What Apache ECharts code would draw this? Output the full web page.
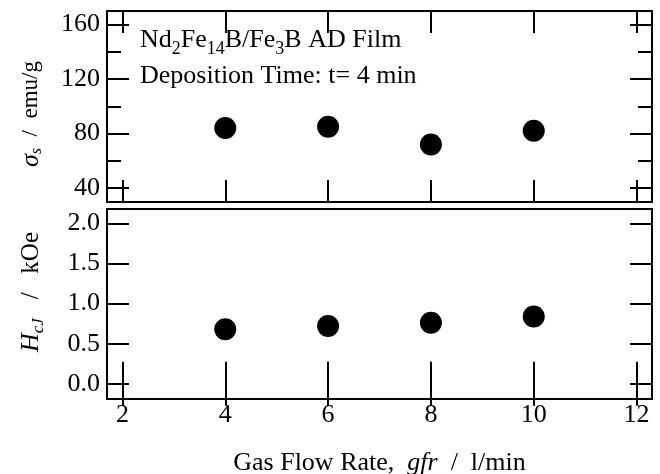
<!DOCTYPE html>
<html>
<head>
<meta charset="utf-8">
<script src="https://cdn.jsdelivr.net/npm/echarts@6/dist/echarts.min.js"></script>
<style>
  html, body { margin: 0; padding: 0; background: #fff; }
  #chart { width: 660px; height: 474px; }
</style>
</head>
<body>
<div id="chart"></div>
<script>
// data
const gasFlowRate = [4, 6, 8, 10];
const sigmaS = [84, 85, 72, 82];
const hcj = [0.68, 0.72, 0.76, 0.84];

// ticks
const xTicks = [2, 4, 6, 8, 10, 12];
const sigmaMajor = [40, 80, 120, 160];
const sigmaMinor = [60, 100, 140];
const hcjTicks = [0, 0.5, 1.0, 1.5, 2.0];

const FONT = 'Liberation Serif';
const FS = 26;
const chart = echarts.init(document.getElementById('chart'));

function xAx(grid, pos, labels) {
  return {
    type: 'value', gridIndex: grid, position: pos, min: 1.7, max: 12.3,
    axisLine: { show: false },
    splitLine: { show: false },
    axisTick: { inside: true, length: 22, customValues: xTicks, lineStyle: { color: '#000', width: 2 } },
    axisLabel: { show: labels, customValues: xTicks, margin: 3, color: '#000', fontFamily: FONT, fontSize: FS }
  };
}

function yAx(grid, pos, min, max, ticks, len, labels, fmt) {
  return {
    type: 'value', gridIndex: grid, position: pos, min: min, max: max,
    axisLine: { show: false },
    splitLine: { show: false },
    axisTick: { inside: true, length: len, customValues: ticks, lineStyle: { color: '#000', width: 2 } },
    axisLabel: { show: labels, customValues: ticks, margin: 7, color: '#000', fontFamily: FONT, fontSize: FS, formatter: fmt }
  };
}

const txt = { fontFamily: FONT, fontSize: FS, lineHeight: 26, fill: '#000' };
// subscript: pushed down with top padding, small lineHeight so the line keeps its height
function sub(size, drop, italic) {
  return {
    fontFamily: FONT, fontSize: size, lineHeight: 6, verticalAlign: 'top',
    padding: [drop, 0, 0, 0], fill: '#000', fontStyle: italic ? 'italic' : 'normal'
  };
}

const gridBase = { left: 107, width: 545, show: true, borderColor: '#000', borderWidth: 2, backgroundColor: 'transparent', outerBoundsMode: 'none', containLabel: false };

chart.setOption({
  animation: false,
  backgroundColor: '#fff',
  grid: [
    Object.assign({ top: 11, height: 191 }, gridBase),
    Object.assign({ top: 209, height: 190 }, gridBase)
  ],
  xAxis: [
    xAx(0, 'bottom', false),
    xAx(0, 'top', false),
    Object.assign(xAx(1, 'bottom', true), {
      name: '{a|Gas Flow Rate,  }{i|gfr}{a|  /  l/min}',
      nameLocation: 'middle',
      nameGap: 51,
      nameTextStyle: {
        rich: {
          a: { fontFamily: FONT, fontSize: FS, color: '#000' },
          i: { fontFamily: FONT, fontSize: FS, color: '#000', fontStyle: 'italic' }
        }
      }
    }),
    xAx(1, 'top', false)
  ],
  yAxis: [
    yAx(0, 'left', 29.7, 170, sigmaMajor, 22, true),
    yAx(0, 'left', 29.7, 170, sigmaMinor, 14, false),
    yAx(0, 'right', 29.7, 170, sigmaMajor, 22, false),
    yAx(0, 'right', 29.7, 170, sigmaMinor, 14, false),
    yAx(1, 'left', -0.19, 2.18, hcjTicks, 22, true, v => v.toFixed(1)),
    yAx(1, 'right', -0.19, 2.18, hcjTicks, 22, false)
  ],
  graphic: [
    {
      type: 'text', x: 140, y: 40,
      style: Object.assign({
        text: 'Nd{s|2}Fe{s|14}B/Fe{s|3}B AD Film',
        verticalAlign: 'middle',
        rich: { s: sub(18, 13, false) }
      }, txt)
    },
    {
      type: 'text', x: 140, y: 76,
      style: Object.assign({ text: 'Deposition Time: t= 4 min', verticalAlign: 'middle' }, txt)
    },
    {
      type: 'text', x: 31, y: 114, rotation: Math.PI / 2,
      style: Object.assign({
        text: '{i|σ}{s|s}  /  emu/g',
        align: 'center', verticalAlign: 'middle',
        rich: {
          i: { fontFamily: FONT, fontSize: 26, lineHeight: 26, fontStyle: 'italic', fill: '#000' },
          s: sub(16, 11, true)
        }
      }, txt, { fontSize: 23 })
    },
    {
      type: 'text', x: 31, y: 292, rotation: Math.PI / 2,
      style: Object.assign({
        text: '{i|H}{s|cJ}   /   kOe',
        align: 'center', verticalAlign: 'middle',
        rich: {
          i: { fontFamily: FONT, fontSize: 26, lineHeight: 26, fontStyle: 'italic', fill: '#000' },
          s: sub(17, 12, true)
        }
      }, txt, { fontSize: 25 })
    }
  ],
  series: [
    {
      type: 'scatter', xAxisIndex: 0, yAxisIndex: 0,
      data: gasFlowRate.map((x, i) => [x, sigmaS[i]]),
      symbol: 'circle', symbolSize: 22,
      itemStyle: { color: '#000', opacity: 1 }
    },
    {
      type: 'scatter', xAxisIndex: 2, yAxisIndex: 4,
      data: gasFlowRate.map((x, i) => [x, hcj[i]]),
      symbol: 'circle', symbolSize: 22,
      itemStyle: { color: '#000', opacity: 1 }
    }
  ]
});
</script>
</body>
</html>
